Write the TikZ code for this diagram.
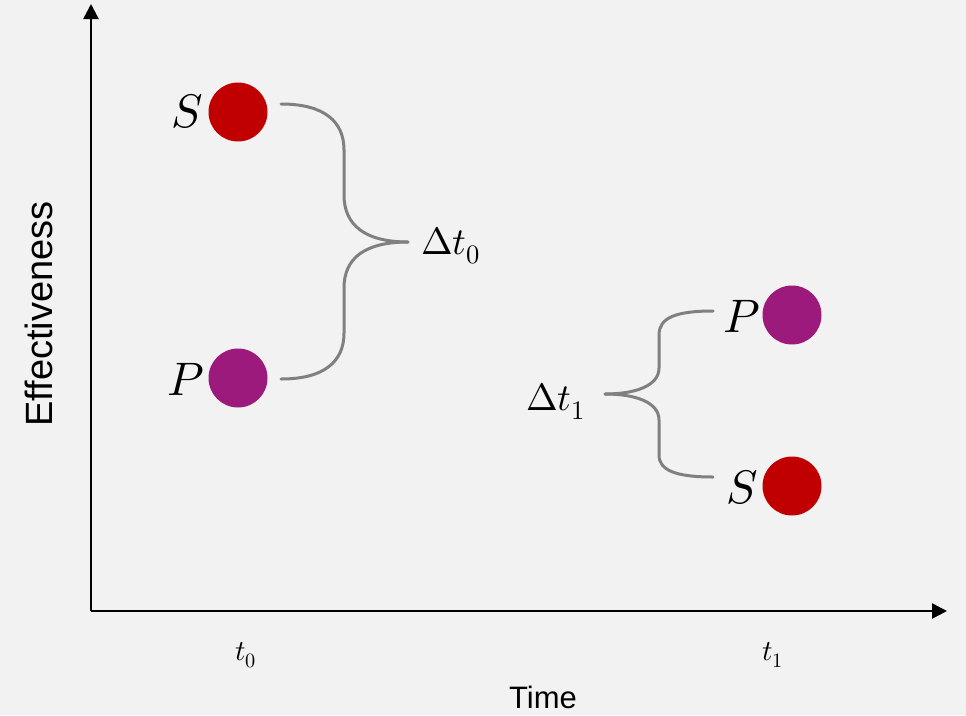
\documentclass[tikz,border=0pt]{standalone}
\usepackage{fontspec}
\usepackage{unicode-math}
\setmainfont{Liberation Sans}
\setmathfont{Latin Modern Math}
\usetikzlibrary{arrows.meta}
\definecolor{bg}{HTML}{F2F2F2}
\definecolor{sred}{HTML}{C00000}
\definecolor{ppur}{HTML}{9C1A7B}
\definecolor{brc}{HTML}{808080}
\tikzset{
  axis/.style={line width=2.5pt, -{Triangle[length=15pt,width=15pt]}},
  dot/.style={circle, minimum size=59pt, inner sep=0pt},
  sdot/.style={dot, fill=sred},
  pdot/.style={dot, fill=ppur},
  big/.style={font=\fontsize{47}{50}\selectfont, inner sep=0pt},
  mid/.style={font=\fontsize{38}{42}\selectfont, inner sep=0pt},
  small/.style={font=\fontsize{29}{32}\selectfont, inner sep=0pt},
  brace/.style={draw=brc, line width=3pt, line cap=round}
}
\begin{document}
\begin{tikzpicture}[x=1pt,y=-1pt]
\fill[bg] (0,0) rectangle (966,715);
\useasboundingbox (0,0) rectangle (966,715);
% axes
\coordinate (O) at (91,611);
\coordinate (Ytop) at (91,4);
\coordinate (Xend) at (947,611);
\draw[axis] (O) -- (Ytop);
\draw[axis] (O) -- (Xend);
\node[rotate=90, font=\fontsize{38}{42}\selectfont, inner sep=0pt] (ylab) at (39,314) {Effectiveness};
\node[font=\fontsize{31}{34}\selectfont, inner sep=0pt] (xlab) at (543,697) {Time};
\node[small, anchor=base] (t0) at (246,660) {$t_0$};
\node[small, anchor=base] (t1) at (773,660) {$t_1$};
% dots at t0
\node[sdot] (S0) at (238,112) {};
\node[pdot] (P0) at (238,378) {};
\node[big] (S0l) at (187,111) {$S$};
\node[big] (P0l) at (186,379) {$P$};
% dots at t1
\node[pdot] (P1) at (792,315) {};
\node[sdot] (S1) at (792,486) {};
\node[big] (P1l) at (742,316) {$P$};
\node[big] (S1l) at (742,487) {$S$};
% brace 0
\coordinate (b0t) at (281,104);
\coordinate (b0b) at (281,379);
\coordinate (b0tip) at (408,242);
\draw[brace] (b0t) .. controls (325,104) and (344,122) .. (344,150) -- (344,195)
  .. controls (344,225) and (365,242) .. (b0tip);
\draw[brace] (b0b) .. controls (325,379) and (344,361) .. (344,333) -- (344,288)
  .. controls (344,258) and (365,242) .. (b0tip);
\node[mid, anchor=base west] (d0) at (421,254) {$\Delta t_0$};
% brace 1
\coordinate (b1t) at (713,311);
\coordinate (b1b) at (713,477);
\coordinate (b1tip) at (605,394);
\draw[brace] (b1t) .. controls (675,311) and (659,318) .. (659,335) -- (659,368)
  .. controls (659,386) and (635,394) .. (b1tip);
\draw[brace] (b1b) .. controls (675,477) and (659,470) .. (659,455) -- (659,420)
  .. controls (659,402) and (635,394) .. (b1tip);
\node[mid, anchor=base west] (d1) at (526,410) {$\Delta t_1$};
\end{tikzpicture}
\end{document}
